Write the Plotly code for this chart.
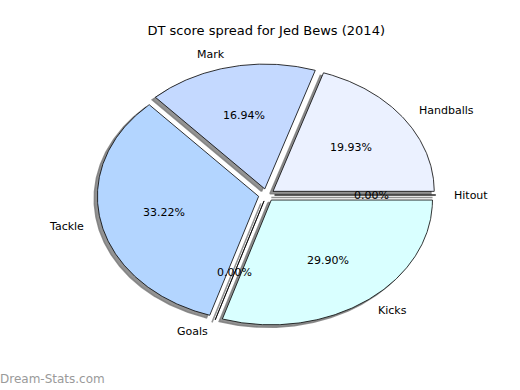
import numpy as np
import plotly.graph_objects as go

# ---- data ----
labels = ["Handballs", "Mark", "Tackle", "Goals", "Kicks", "Hitout"]
values = [19.93, 16.94, 33.22, 0.00, 29.90, 0.00]
title_text = "DT score spread for Jed Bews (2014)"

# ---- style ----
colors = ["#ebf1ff", "#c4d9ff", "#b3d5ff", "#b3d5ff", "#d9ffff", "#ebf1ff"]
explode = 0.05
shadow_off = (-0.02, -0.02)
lab_dist = 1.1
pct_dist = 0.6

fig = go.Figure()
vals = np.array(values, dtype=float)
frac = vals / vals.sum()
starts = np.concatenate([[0.0], np.cumsum(frac)[:-1]]) * 2 * np.pi
ends = np.cumsum(frac) * 2 * np.pi


def wedge(t1, t2, cx, cy):
    n = max(2, int(np.degrees(t2 - t1)) * 2 + 2)
    t = np.linspace(t1, t2, n)
    xs = np.concatenate([[cx], cx + np.cos(t), [cx]])
    ys = np.concatenate([[cy], cy + np.sin(t), [cy]])
    return xs, ys


geoms = []
for i in range(len(labels)):
    t1, t2 = starts[i], ends[i]
    m = 0.5 * (t1 + t2)
    cx, cy = explode * np.cos(m), explode * np.sin(m)
    geoms.append((t1, t2, m, cx, cy))

# shadows
for i, (t1, t2, m, cx, cy) in enumerate(geoms):
    xs, ys = wedge(t1, t2, cx + shadow_off[0], cy + shadow_off[1])
    fig.add_trace(go.Scatter(x=xs, y=ys, mode="lines", fill="toself",
                             fillcolor="rgba(120,120,120,0.8)",
                             line=dict(color="rgba(120,120,120,0.8)", width=1.5),
                             hoverinfo="skip", showlegend=False))
# wedges
for i, (t1, t2, m, cx, cy) in enumerate(geoms):
    xs, ys = wedge(t1, t2, cx, cy)
    fig.add_trace(go.Scatter(x=xs, y=ys, mode="lines", fill="toself",
                             fillcolor=colors[i],
                             line=dict(color="black", width=0.8),
                             hoverinfo="skip", showlegend=False))

font = dict(family="DejaVu Sans", size=11, color="black")
for i, (t1, t2, m, cx, cy) in enumerate(geoms):
    lx = cx + lab_dist * np.cos(m)
    ly = cy + lab_dist * np.sin(m)
    fig.add_annotation(x=lx, y=ly, text=labels[i], showarrow=False,
                       xanchor="left" if lx > 0 else "right", yanchor="middle",
                       font=font, xref="x", yref="y")
    px = cx + pct_dist * np.cos(m)
    py = cy + pct_dist * np.sin(m)
    fig.add_annotation(x=px, y=py, text="%1.2f%%" % (frac[i] * 100), showarrow=False,
                       xanchor="center", yanchor="middle",
                       font=font, xref="x", yref="y")

fig.add_annotation(x=0, y=0, xref="paper", yref="paper", xanchor="left", yanchor="bottom",
                   text="Dream-Stats.com", showarrow=False,
                   font=dict(family="DejaVu Sans", size=12, color="#9a9a9a"),
                   xshift=-67, yshift=-37)

fig.update_layout(
    width=520, height=390,
    margin=dict(l=65, r=52, t=39, b=39),
    paper_bgcolor="white", plot_bgcolor="white",
    title=dict(text=title_text, x=0.512, xanchor="center", y=1 - 30 / 390, yanchor="middle",
               font=dict(family="DejaVu Sans", size=13, color="black")),
    xaxis=dict(range=[-1.25, 1.25], visible=False, fixedrange=True),
    yaxis=dict(range=[-1.25, 1.25], visible=False, fixedrange=True),
    showlegend=False,
)

fig.write_html("out.html", config={"displayModeBar": False},
               post_script="document.body.style.margin='0px';document.body.style.overflow='hidden';")
